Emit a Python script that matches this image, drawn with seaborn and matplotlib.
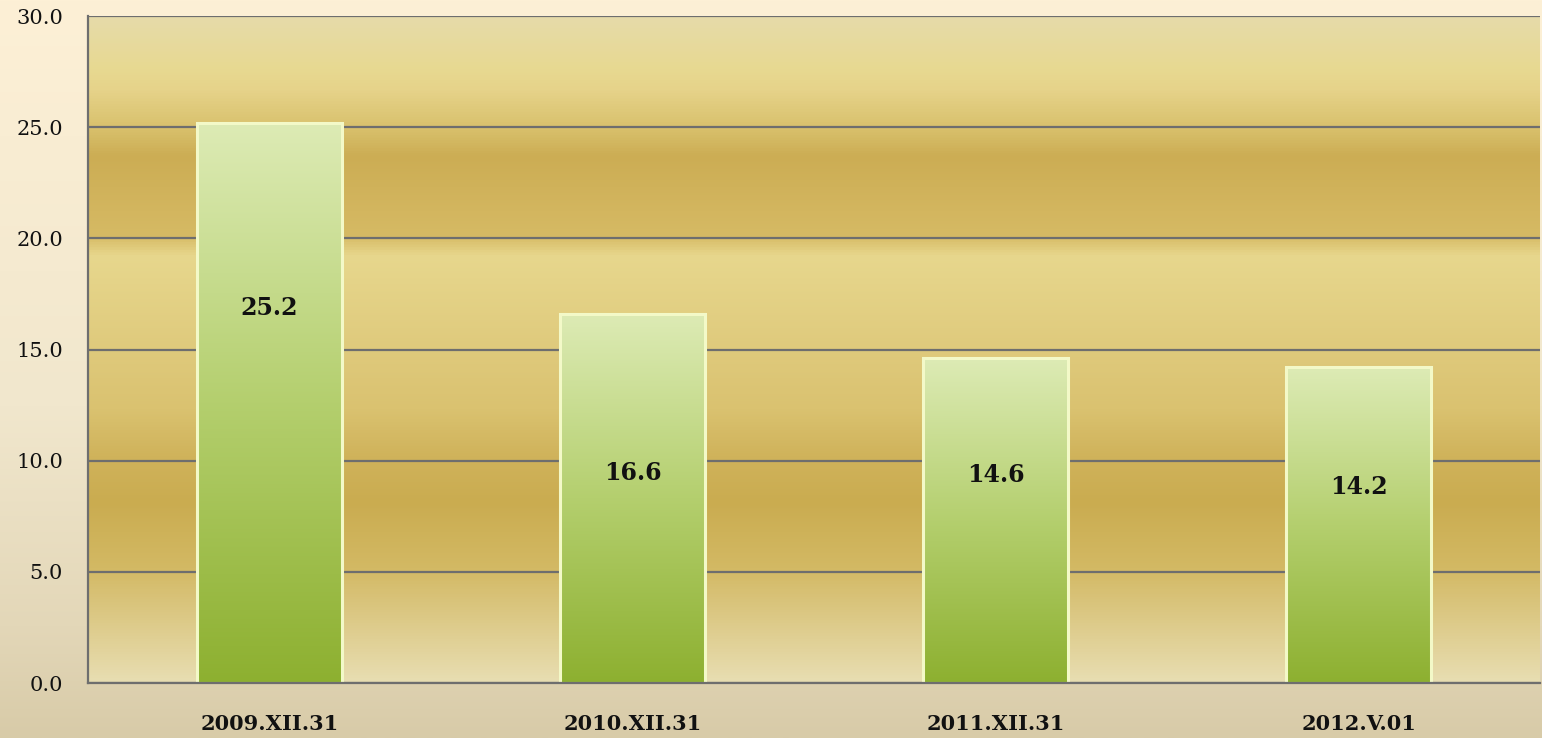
import numpy as np
import pandas as pd
import matplotlib
matplotlib.use("Agg")
import matplotlib.pyplot as plt
from matplotlib.colors import LinearSegmentedColormap
from matplotlib.ticker import FixedLocator
import seaborn as sns

# ---------- data ----------
dates = ["2009.XII.31", "2010.XII.31", "2011.XII.31", "2012.V.01"]
values = [25.2, 16.6, 14.6, 14.2]
y_ticks = [0, 5, 10, 15, 20, 25, 30]

# where the value label sits inside each bar (fraction of bar height)
label_frac = [0.67, 0.57, 0.64, 0.62]

sns.set_style("white")
plt.rcParams["font.family"] = ["DejaVu Serif"]

df = pd.DataFrame({"date": dates, "value": values})

fig = plt.figure(figsize=(15.42, 7.38), dpi=100)

# figure background gradient (cream -> tan)
bg = fig.add_axes([0, 0, 1, 1], zorder=-5)
bg_cmap = LinearSegmentedColormap.from_list(
    "bg", [(0, "#FDF0D6"), (0.55, "#F1E7CD"), (0.85, "#E3D7B8"), (1, "#D8CBA8")])
bg.imshow(np.linspace(0, 1, 256).reshape(-1, 1), cmap=bg_cmap, aspect="auto",
          extent=[0, 1, 0, 1], origin="upper")
bg.set_axis_off()

ax = fig.add_axes([0.0571, 0.0745, 0.9416, 0.9038])
sns.barplot(data=df, x="date", y="value", width=0.4, ax=ax,
            facecolor="none", edgecolor="#F3F9C8", linewidth=2.2, zorder=3)
ax.set_xlim(-0.5, 3.5)
ax.set_ylim(0, 30)

# plot-area banded gold gradient (0 at bottom -> 30 at top)
plot_cmap = LinearSegmentedColormap.from_list("plot", [
    (0.00, "#E8DEB2"), (0.17, "#D3B964"), (0.27, "#CAAC50"), (0.34, "#D0B35B"),
    (0.41, "#DAC270"), (0.50, "#DFCA7C"), (0.64, "#E7D78D"), (0.67, "#D6BA64"),
    (0.79, "#CCAD54"), (0.83, "#D8C06B"), (0.89, "#E6D38A"), (0.92, "#E8D991"),
    (1.00, "#E6DBAA")])
ax.imshow(np.linspace(0, 1, 512).reshape(-1, 1), cmap=plot_cmap, aspect="auto",
          extent=[-0.5, 3.5, 0, 30], origin="lower", zorder=0)

# green gradient inside each bar
bar_cmap = LinearSegmentedColormap.from_list(
    "bar", [(0, "#8DB030"), (0.5, "#B4CF6E"), (1, "#DDEBB5")])
for patch, v, f in zip(ax.patches, values, label_frac):
    x0, w = patch.get_x(), patch.get_width()
    img = ax.imshow(np.linspace(0, 1, 256).reshape(-1, 1), cmap=bar_cmap,
                    aspect="auto", extent=[x0, x0 + w, 0, v], origin="lower",
                    zorder=2.5)
    img.set_clip_path(patch)
    ax.text(x0 + w / 2, v * f, f"{v:.1f}", ha="center", va="center",
            fontsize=17, fontweight="bold", color="#111111", zorder=4)

# grid + axes styling (grid behind the bars)
ax.set_axisbelow(True)
ax.yaxis.grid(True, color="#6E6E6E", linewidth=1.6)
ax.xaxis.grid(False)
for s in ["top", "right"]:
    ax.spines[s].set_visible(False)
for s in ["left", "bottom"]:
    ax.spines[s].set_color("#6E6E6E")
    ax.spines[s].set_linewidth(1.6)
    ax.spines[s].set_zorder(5)

ax.set_yticks(y_ticks)
ax.set_yticklabels([f"{t:.1f}" for t in y_ticks])
ax.tick_params(axis="y", length=8, width=1.6, color="#6E6E6E", pad=10,
               labelsize=15, labelcolor="#111111")

ax.xaxis.set_major_locator(FixedLocator([-0.5, 0.5, 1.5, 2.5, 3.5]))
ax.xaxis.set_minor_locator(FixedLocator(range(len(dates))))
ax.set_xticklabels([], minor=False)
ax.set_xticklabels(dates, minor=True, fontweight="bold", fontsize=15)
ax.tick_params(axis="x", which="major", length=7, width=1.6, color="#6E6E6E")
ax.tick_params(axis="x", which="minor", length=0, pad=22, labelcolor="#111111")

ax.set_xlabel("")
ax.set_ylabel("")

fig.savefig("out.png", dpi=100)
